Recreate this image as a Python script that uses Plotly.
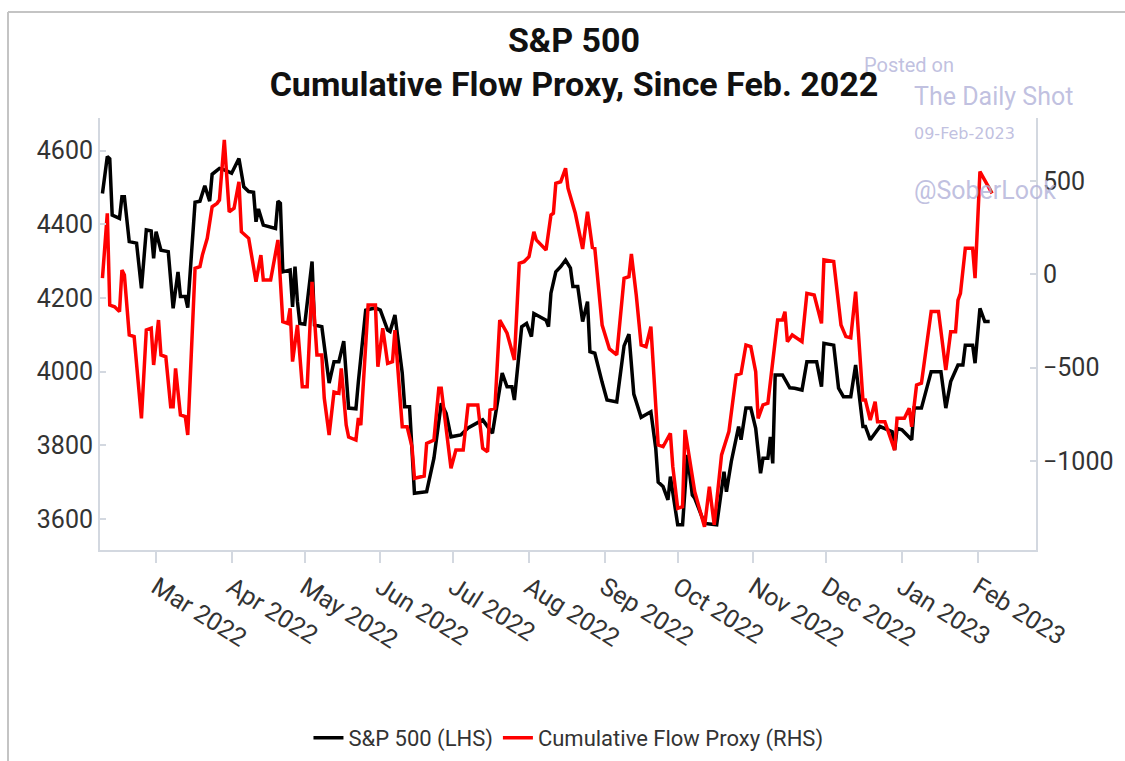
import plotly.graph_objects as go

# ---------------- data ----------------
sp_dates = [
    "2022-02-07", "2022-02-09", "2022-02-10", "2022-02-11", "2022-02-14", "2022-02-15", "2022-02-16",
    "2022-02-18", "2022-02-21", "2022-02-23", "2022-02-25", "2022-02-27", "2022-02-28", "2022-03-01",
    "2022-03-03", "2022-03-06", "2022-03-08", "2022-03-10", "2022-03-11", "2022-03-13", "2022-03-14",
    "2022-03-17", "2022-03-19", "2022-03-21", "2022-03-23", "2022-03-24", "2022-03-27", "2022-03-29",
    "2022-04-01", "2022-04-04", "2022-04-06", "2022-04-08", "2022-04-10", "2022-04-11", "2022-04-12",
    "2022-04-14", "2022-04-19", "2022-04-20", "2022-04-21", "2022-04-22", "2022-04-25", "2022-04-26",
    "2022-04-27", "2022-04-28", "2022-04-29", "2022-05-01", "2022-05-04", "2022-05-05", "2022-05-08",
    "2022-05-10", "2022-05-11", "2022-05-13", "2022-05-15", "2022-05-17", "2022-05-18", "2022-05-19",
    "2022-05-22", "2022-05-23", "2022-05-26", "2022-05-30", "2022-06-01", "2022-06-04", "2022-06-05",
    "2022-06-07", "2022-06-10", "2022-06-11", "2022-06-13", "2022-06-15", "2022-06-20", "2022-06-23",
    "2022-06-26", "2022-06-28", "2022-06-30", "2022-07-04", "2022-07-07", "2022-07-13", "2022-07-17",
    "2022-07-21", "2022-07-23", "2022-07-25", "2022-07-26", "2022-07-29", "2022-07-31", "2022-08-02",
    "2022-08-03", "2022-08-08", "2022-08-09", "2022-08-10", "2022-08-12", "2022-08-14", "2022-08-16",
    "2022-08-18", "2022-08-19", "2022-08-21", "2022-08-23", "2022-08-25", "2022-08-26", "2022-08-28",
    "2022-08-31", "2022-09-02", "2022-09-06", "2022-09-09", "2022-09-11", "2022-09-13", "2022-09-16",
    "2022-09-20", "2022-09-22", "2022-09-23", "2022-09-25", "2022-09-27", "2022-09-28", "2022-10-01",
    "2022-10-03", "2022-10-05", "2022-10-07", "2022-10-08", "2022-10-12", "2022-10-17", "2022-10-20",
    "2022-10-21", "2022-10-23", "2022-10-26", "2022-10-27", "2022-10-29", "2022-10-31", "2022-11-02",
    "2022-11-04", "2022-11-05", "2022-11-07", "2022-11-08", "2022-11-09", "2022-11-10", "2022-11-13",
    "2022-11-16", "2022-11-18", "2022-11-21", "2022-11-23", "2022-11-27", "2022-11-29", "2022-11-30",
    "2022-12-04", "2022-12-06", "2022-12-08", "2022-12-11", "2022-12-13", "2022-12-16", "2022-12-17",
    "2022-12-19", "2022-12-23", "2022-12-28", "2022-12-29", "2022-12-30", "2023-01-01", "2023-01-05",
    "2023-01-06", "2023-01-09", "2023-01-13", "2023-01-17", "2023-01-19", "2023-01-21", "2023-01-24",
    "2023-01-26", "2023-01-27", "2023-01-30", "2023-01-31", "2023-02-02", "2023-02-04", "2023-02-06",
]
sp_values = [
    4484, 4584, 4578, 4425, 4416, 4475, 4475,
    4353, 4349, 4226, 4385, 4382, 4308, 4380,
    4330, 4326, 4172, 4271, 4204, 4204, 4174,
    4460, 4463, 4505, 4463, 4536, 4552, 4548,
    4539, 4579, 4502, 4489, 4487, 4407, 4442,
    4398, 4389, 4463, 4457, 4271, 4276, 4176,
    4285, 4190, 4131, 4129, 4299, 4127, 4122,
    4027, 3969, 4027, 4027, 4083, 4005, 3901,
    3899, 3973, 4167, 4173, 4167, 4113, 4109,
    4154, 3996, 3905, 3905, 3670, 3674, 3765,
    3914, 3887, 3823, 3828, 3847, 3869, 3833,
    3996, 3959, 3959, 3923, 4122, 4131, 4095,
    4158, 4140, 4122, 4213, 4271, 4285, 4303,
    4281, 4231, 4231, 4136, 4190, 4054, 4050,
    3971, 3923, 3918, 4070, 4102, 3939, 3876,
    3891, 3792, 3700, 3688, 3652, 3715, 3584,
    3584, 3774, 3665, 3656, 3588, 3584, 3728,
    3674, 3756, 3851, 3815, 3901, 3901, 3846,
    3724, 3765, 3765, 3823, 3751, 3991, 3991,
    3956, 3955, 3950, 4027, 4027, 3959, 4077,
    4072, 3955, 3932, 3932, 4018, 3851, 3851,
    3815, 3851, 3837, 3787, 3846, 3842, 3815,
    3901, 3901, 4000, 4000, 3901, 3973, 4018,
    4018, 4072, 4072, 4023, 4172, 4136, 4136,
]

flow_dates = [
    "2022-02-07", "2022-02-09", "2022-02-10", "2022-02-12", "2022-02-14", "2022-02-15", "2022-02-16",
    "2022-02-18", "2022-02-20", "2022-02-23", "2022-02-25", "2022-02-27", "2022-02-28", "2022-03-02",
    "2022-03-03", "2022-03-05", "2022-03-07", "2022-03-08", "2022-03-09", "2022-03-11", "2022-03-13",
    "2022-03-14", "2022-03-17", "2022-03-19", "2022-03-20", "2022-03-22", "2022-03-24", "2022-03-26",
    "2022-03-27", "2022-03-29", "2022-03-31", "2022-04-02", "2022-04-04", "2022-04-05", "2022-04-08",
    "2022-04-11", "2022-04-13", "2022-04-14", "2022-04-17", "2022-04-20", "2022-04-22", "2022-04-24",
    "2022-04-25", "2022-04-26", "2022-04-28", "2022-04-30", "2022-05-02", "2022-05-04", "2022-05-06",
    "2022-05-08", "2022-05-09", "2022-05-11", "2022-05-13", "2022-05-15", "2022-05-16", "2022-05-18",
    "2022-05-19", "2022-05-22", "2022-05-23", "2022-05-24", "2022-05-27", "2022-05-30", "2022-05-31",
    "2022-06-02", "2022-06-04", "2022-06-06", "2022-06-07", "2022-06-10", "2022-06-12", "2022-06-14",
    "2022-06-15", "2022-06-19", "2022-06-20", "2022-06-23", "2022-06-25", "2022-06-26", "2022-06-30",
    "2022-07-02", "2022-07-05", "2022-07-07", "2022-07-11", "2022-07-13", "2022-07-15", "2022-07-16",
    "2022-07-18", "2022-07-20", "2022-07-23", "2022-07-26", "2022-07-28", "2022-07-30", "2022-08-01",
    "2022-08-03", "2022-08-04", "2022-08-08", "2022-08-10", "2022-08-11", "2022-08-12", "2022-08-14",
    "2022-08-16", "2022-08-17", "2022-08-20", "2022-08-23", "2022-08-25", "2022-08-27", "2022-08-28",
    "2022-08-31", "2022-09-03", "2022-09-06", "2022-09-09", "2022-09-11", "2022-09-12", "2022-09-14",
    "2022-09-16", "2022-09-18", "2022-09-20", "2022-09-22", "2022-09-23", "2022-09-25", "2022-09-28",
    "2022-09-29", "2022-10-01", "2022-10-03", "2022-10-04", "2022-10-08", "2022-10-12", "2022-10-14",
    "2022-10-16", "2022-10-19", "2022-10-22", "2022-10-25", "2022-10-27", "2022-10-29", "2022-10-31",
    "2022-11-02", "2022-11-03", "2022-11-05", "2022-11-07", "2022-11-11", "2022-11-13", "2022-11-14",
    "2022-11-15", "2022-11-17", "2022-11-21", "2022-11-23", "2022-11-26", "2022-11-29", "2022-11-30",
    "2022-12-04", "2022-12-07", "2022-12-09", "2022-12-11", "2022-12-13", "2022-12-16", "2022-12-17",
    "2022-12-19", "2022-12-21", "2022-12-22", "2022-12-25", "2022-12-29", "2022-12-30", "2023-01-02",
    "2023-01-04", "2023-01-05", "2023-01-07", "2023-01-09", "2023-01-13", "2023-01-16", "2023-01-19",
    "2023-01-21", "2023-01-23", "2023-01-24", "2023-01-25", "2023-01-27", "2023-01-30", "2023-01-31",
    "2023-02-02", "2023-02-04", "2023-02-05", "2023-02-07",
]
flow_values = [
    -21, 327, -165, -174, -200, 23, -4,
    -325, -334, -772, -298, -289, -486, -245,
    -432, -442, -710, -710, -504, -754, -763,
    -861, 32, 41, 103, 193, 362, 380,
    398, 720, 335, 354, 496, 228, 193,
    -40, 103, -31, -31, 184, -254, -263,
    -182, -468, -272, -602, -602, -40, -432,
    -432, -663, -861, -631, -638, -504, -808,
    -872, -888, -770, -808, -165, -165, -495,
    -289, -477, -468, -299, -817, -817, -924,
    -1093, -1081, -906, -888, -611, -611, -1040,
    -942, -942, -700, -700, -932, -951, -727,
    -718, -245, -316, -459, 59, 68, 94,
    228, 184, 130, 318, 327, 488, 496,
    568, 461, 327, 136, 335, 144, 139,
    -272, -400, -432, -21, -13, 109, -111,
    -379, -388, -281, -683, -915, -924, -852,
    -1031, -1254, -1245, -834, -1165, -1353, -1138,
    -1343, -968, -843, -540, -531, -379, -388,
    -522, -772, -700, -691, -245, -245, -200,
    -361, -325, -361, -102, -111, -263, 77,
    68, -272, -334, -340, -93, -674, -674,
    -781, -683, -790, -790, -942, -772, -772,
    -718, -817, -593, -584, -200, -200, -513,
    -308, -308, -138, -102, 139, 139, -21,
    550, 505, 488, 434,
]

tick_dates = ["2022-03-01", "2022-04-01", "2022-05-01", "2022-06-01", "2022-07-01", "2022-08-01",
              "2022-09-01", "2022-10-01", "2022-11-01", "2022-12-01", "2023-01-01", "2023-02-01"]
tick_labels = ["Mar 2022", "Apr 2022", "May 2022", "Jun 2022", "Jul 2022", "Aug 2022",
               "Sep 2022", "Oct 2022", "Nov 2022", "Dec 2022", "Jan 2023", "Feb 2023"]
left_ticks = [3600, 3800, 4000, 4200, 4400, 4600]
right_ticks = [-1000, -500, 0, 500]
right_tick_labels = ["\u22121000", "\u2212500", "0", "500"]

# ---------------- figure ----------------
FONT = "Roboto, Arial, sans-serif"
AXIS_COLOR = "#d3d8e0"
TEXT_COLOR = "#333333"
WM_COLOR = "rgba(176,176,216,0.8)"

fig = go.Figure()
fig.add_trace(go.Scatter(x=sp_dates, y=sp_values, name="S&P 500 (LHS)", mode="lines",
                         line=dict(color="#000000", width=3.5), yaxis="y"))
fig.add_trace(go.Scatter(x=flow_dates, y=flow_values, name="Cumulative Flow Proxy (RHS)", mode="lines",
                         line=dict(color="#ff0000", width=3.5), yaxis="y2"))

fig.update_layout(
    width=1125, height=761,
    margin=dict(l=100, r=89, t=118, b=211, autoexpand=False),
    paper_bgcolor="white", plot_bgcolor="white",
    font=dict(family=FONT, color=TEXT_COLOR),
    title=dict(text="<b>S&P 500<br>Cumulative Flow Proxy, Since Feb. 2022</b>",
               x=0.5064, xref="paper", xanchor="center",
               y=1 - 52 / 761, yref="container", yanchor="top",
               font=dict(family=FONT, size=34, color="#111111")),
    xaxis=dict(type="date", range=["2022-02-06", "2023-02-25"], automargin=False,
               tickvals=tick_dates, ticktext=tick_labels, tickangle=32,
               tickfont=dict(size=25, color=TEXT_COLOR),
               showgrid=False, zeroline=False,
               showline=True, linecolor=AXIS_COLOR, linewidth=2,
               ticks="outside", ticklen=11, tickwidth=1.5, tickcolor=AXIS_COLOR),
    yaxis=dict(range=[3515.7, 4688.8], tickvals=left_ticks, automargin=False,
               tickfont=dict(size=25, color=TEXT_COLOR),
               showgrid=False, zeroline=False,
               showline=True, linecolor=AXIS_COLOR, linewidth=2,
               ticks="inside", ticklen=6, tickwidth=1.5, tickcolor=AXIS_COLOR),
    yaxis2=dict(range=[-1477.5, 837.6], tickvals=right_ticks, ticktext=right_tick_labels,
                overlaying="y", side="right", automargin=False,
                tickfont=dict(size=25, color=TEXT_COLOR),
                showgrid=False, zeroline=False,
                showline=True, linecolor=AXIS_COLOR, linewidth=2,
                ticks="inside", ticklen=6, tickwidth=1.5, tickcolor=AXIS_COLOR),
    legend=dict(orientation="h", x=0.5005, xanchor="center", y=-0.435, yanchor="middle",
                font=dict(size=22, color=TEXT_COLOR), bgcolor="rgba(0,0,0,0)"),
    showlegend=True,
)

# watermark
wm = [
    ("Posted on", 862, 65, 20, FONT),
    ("The Daily Shot", 912, 97, 25, FONT),
    ("09-Feb-2023", 912, 133, 16, "DejaVu Sans, sans-serif"),
    ("@SoberLook", 912, 190, 25, FONT),
]
for txt, px, py, fs, fam in wm:
    fig.add_annotation(text=txt, xref="paper", yref="paper",
                       x=(px - 100) / 936, y=(550 - py) / 432,
                       xanchor="left", yanchor="middle", showarrow=False,
                       font=dict(family=fam, size=fs, color=WM_COLOR))

# screenshot frame (top and left grey edges)
fig.add_shape(type="line", xref="paper", yref="paper",
              x0=(8 - 100) / 936, x1=(1125 - 100) / 936, y0=(550 - 12) / 432, y1=(550 - 12) / 432,
              line=dict(color="#c4c4c4", width=2))
fig.add_shape(type="line", xref="paper", yref="paper",
              x0=(8 - 100) / 936, x1=(8 - 100) / 936, y0=(550 - 12) / 432, y1=(550 - 770) / 432,
              line=dict(color="#c4c4c4", width=2))

fig.write_html("out.html", config={"displayModeBar": False},
               post_script="document.body.style.margin='0';document.body.style.overflow='hidden';")
